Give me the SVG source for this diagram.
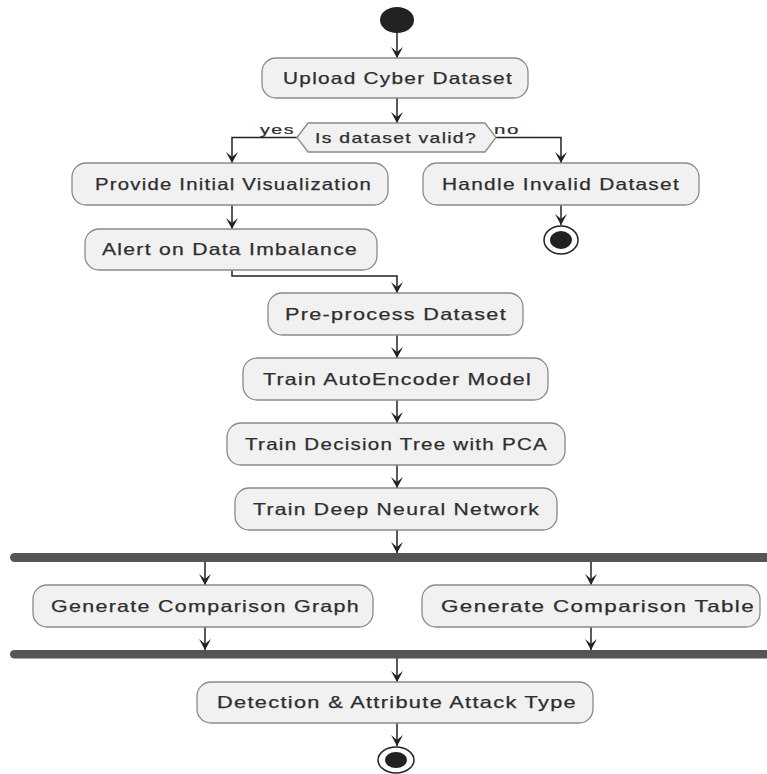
<svg xmlns="http://www.w3.org/2000/svg" width="767" height="774" viewBox="0 0 767 774">
<style>
.box{fill:#f1f1f1;stroke:#8a8a8a;stroke-width:1.3}
.t{font-family:"Liberation Sans",Arial,sans-serif;font-size:16.5px;letter-spacing:1px;fill:#2e2e2e;stroke:#2e2e2e;stroke-width:0.25}
.s{font-family:"Liberation Sans",Arial,sans-serif;font-size:13px;letter-spacing:1px;fill:#2e2e2e;stroke:#2e2e2e;stroke-width:0.2}
.c{fill:none;stroke:#222;stroke-width:1.5}
.bar{fill:#555}
</style>
<defs>
<marker id="ah" markerUnits="userSpaceOnUse" orient="auto" refX="0" refY="0" markerWidth="12" markerHeight="12" overflow="visible">
<path d="M0,0 L-11,-6 L-6,0 L-11,6 Z" fill="#222"/>
</marker>
</defs>
<rect width="767" height="774" fill="#ffffff"/>

<g id="connectors">
<path class="c" d="M397,33 V58" marker-end="url(#ah)"/>
<path class="c" d="M397,98 V123" marker-end="url(#ah)"/>
<path class="c" d="M297,137.5 H232 V163" marker-end="url(#ah)"/>
<path class="c" d="M496,137.5 H561 V163" marker-end="url(#ah)"/>
<path class="c" d="M561,205 V225" marker-end="url(#ah)"/>
<path class="c" d="M232,205 V229" marker-end="url(#ah)"/>
<path class="c" d="M232,270 V276 H397 V293" marker-end="url(#ah)"/>
<path class="c" d="M397,335 V358" marker-end="url(#ah)"/>
<path class="c" d="M397,400 V423" marker-end="url(#ah)"/>
<path class="c" d="M397,465 V488" marker-end="url(#ah)"/>
<path class="c" d="M397,530 V553" marker-end="url(#ah)"/>
<path class="c" d="M205,562 V585" marker-end="url(#ah)"/>
<path class="c" d="M591,562 V585" marker-end="url(#ah)"/>
<path class="c" d="M205,627 V650" marker-end="url(#ah)"/>
<path class="c" d="M591,627 V650" marker-end="url(#ah)"/>
<path class="c" d="M397,658 V682" marker-end="url(#ah)"/>
<path class="c" d="M397,723 V746" marker-end="url(#ah)"/>
<text class="s" x="260" y="134" textLength="35" lengthAdjust="spacingAndGlyphs">yes</text>
<text class="s" x="494" y="134" textLength="26" lengthAdjust="spacingAndGlyphs">no</text>
</g>

<g id="start"><ellipse cx="397" cy="20" rx="17" ry="13" fill="#222"/></g>

<g id="upload">
<rect class="box" x="262" y="58" width="266" height="40" rx="14"/>
<text class="t" x="283" y="84" textLength="230" lengthAdjust="spacingAndGlyphs">Upload Cyber Dataset</text>
</g>

<g id="decision">
<polygon class="box" points="297,137.5 308,123 485,123 496,137.5 485,152 308,152"/>
<text class="t" x="315" y="143" textLength="162" lengthAdjust="spacingAndGlyphs" style="font-size:15px">Is dataset valid?</text>
</g>

<g id="visualize">
<rect class="box" x="72" y="163" width="316" height="42" rx="14"/>
<text class="t" x="95" y="189.5" textLength="277" lengthAdjust="spacingAndGlyphs">Provide Initial Visualization</text>
</g>

<g id="invalid">
<rect class="box" x="423" y="163" width="276" height="42" rx="14"/>
<text class="t" x="442" y="189.5" textLength="238" lengthAdjust="spacingAndGlyphs">Handle Invalid Dataset</text>
</g>

<g id="end1">
<ellipse cx="561" cy="240" rx="17" ry="14" fill="#fff" stroke="#222" stroke-width="1.5"/>
<ellipse cx="561" cy="240" rx="11" ry="9" fill="#222"/>
</g>

<g id="alert">
<rect class="box" x="85" y="229" width="292" height="41" rx="14"/>
<text class="t" x="102" y="255" textLength="256" lengthAdjust="spacingAndGlyphs">Alert on Data Imbalance</text>
</g>

<g id="preprocess">
<rect class="box" x="268" y="293" width="255" height="42" rx="14"/>
<text class="t" x="285" y="319.5" textLength="222" lengthAdjust="spacingAndGlyphs">Pre-process Dataset</text>
</g>

<g id="autoencoder">
<rect class="box" x="243" y="358" width="305" height="42" rx="14"/>
<text class="t" x="263" y="384.5" textLength="269" lengthAdjust="spacingAndGlyphs">Train AutoEncoder Model</text>
</g>

<g id="dtree">
<rect class="box" x="227" y="423" width="338" height="42" rx="14"/>
<text class="t" x="245" y="449.5" textLength="303" lengthAdjust="spacingAndGlyphs">Train Decision Tree with PCA</text>
</g>

<g id="dnn">
<rect class="box" x="235" y="488" width="322" height="42" rx="14"/>
<text class="t" x="253" y="514.5" textLength="287" lengthAdjust="spacingAndGlyphs">Train Deep Neural Network</text>
</g>

<g id="fork"><rect class="bar" x="10" y="553" width="770" height="9" rx="4.5"/></g>

<g id="graph">
<rect class="box" x="33" y="585" width="340" height="42" rx="14"/>
<text class="t" x="51" y="611.5" textLength="309" lengthAdjust="spacingAndGlyphs">Generate Comparison Graph</text>
</g>

<g id="table">
<rect class="box" x="422" y="585" width="338" height="42" rx="14"/>
<text class="t" x="441" y="611.5" textLength="314" lengthAdjust="spacingAndGlyphs">Generate Comparison Table</text>
</g>

<g id="join"><rect class="bar" x="10" y="650" width="770" height="8.5" rx="4.25"/></g>

<g id="detect">
<rect class="box" x="197" y="682" width="396" height="41" rx="14"/>
<text class="t" x="217" y="708" textLength="360" lengthAdjust="spacingAndGlyphs">Detection &amp; Attribute Attack Type</text>
</g>

<g id="end2">
<ellipse cx="396" cy="760" rx="18" ry="13" fill="#fff" stroke="#222" stroke-width="1.5"/>
<ellipse cx="396" cy="760" rx="11" ry="8" fill="#222"/>
</g>
</svg>
